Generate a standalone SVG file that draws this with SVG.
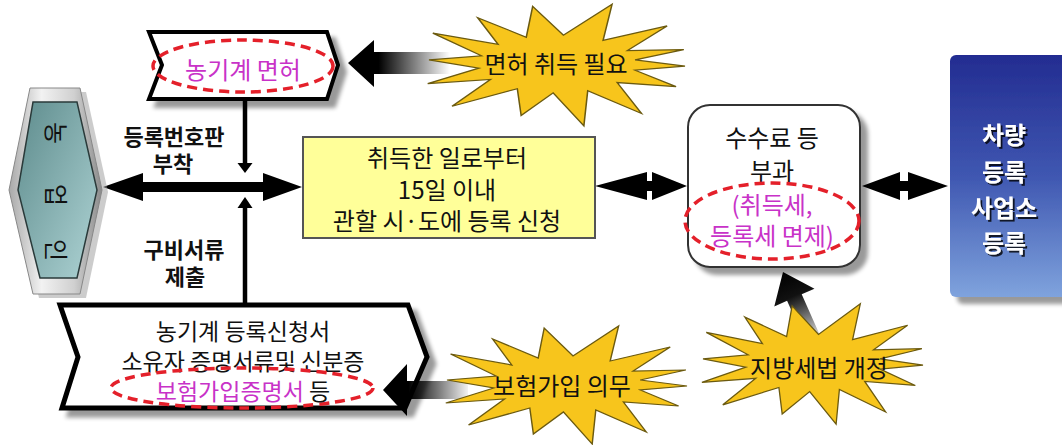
<svg xmlns="http://www.w3.org/2000/svg" width="1062" height="445" viewBox="0 0 1062 445">
<style>
text{font-family:"Noto Sans CJK KR","Noto Sans",sans-serif;font-size:24px;text-anchor:middle;fill:#111}
.b{font-weight:bold;font-size:22px}
.m{fill:#c832c8}
.w{fill:#fff;font-weight:bold}
.d{font-size:23px}
.red{fill:none;stroke:#e4202a;stroke-width:3.5;stroke-dasharray:10 6}
.star{fill:#f7c51c;stroke:#6b5a10;stroke-width:1.2;vector-effect:non-scaling-stroke}
.blk{fill:#000}
</style>
<defs>
<filter id="sh" x="-15%" y="-15%" width="140%" height="140%">
<feGaussianBlur in="SourceAlpha" stdDeviation="2"/>
<feOffset dx="7" dy="7"/>
<feComponentTransfer><feFuncA type="linear" slope="0.4"/></feComponentTransfer>
<feMerge><feMergeNode/><feMergeNode in="SourceGraphic"/></feMerge>
</filter>
<filter id="tsh" x="-10%" y="-10%" width="130%" height="130%">
<feOffset in="SourceAlpha" dx="1.5" dy="1.5"/>
<feComponentTransfer><feFuncA type="linear" slope="0.8"/></feComponentTransfer>
<feMerge><feMergeNode/><feMergeNode in="SourceGraphic"/></feMerge>
</filter>
<linearGradient id="blue" x1="0" y1="0" x2="0" y2="1">
<stop offset="0" stop-color="#232c91"/>
<stop offset="0.5" stop-color="#3f57b1"/>
<stop offset="1" stop-color="#7fa3dd"/>
</linearGradient>
<linearGradient id="silver" x1="0" y1="0" x2="1" y2="0">
<stop offset="0" stop-color="#a8a8a8"/>
<stop offset="0.35" stop-color="#f2f2f2"/>
<stop offset="0.7" stop-color="#d0d0d0"/>
<stop offset="1" stop-color="#8a8a8a"/>
</linearGradient>
<linearGradient id="teal" x1="0" y1="0" x2="1" y2="1">
<stop offset="0" stop-color="#5e8c8d"/>
<stop offset="1" stop-color="#aed3d4"/>
</linearGradient>
<linearGradient id="gL1" gradientUnits="userSpaceOnUse" x1="348" y1="0" x2="450" y2="0">
<stop offset="0" stop-color="#000"/>
<stop offset="0.3" stop-color="#000"/>
<stop offset="1" stop-color="#000" stop-opacity="0"/>
</linearGradient>
<linearGradient id="gL2" gradientUnits="userSpaceOnUse" x1="383" y1="0" x2="468" y2="0">
<stop offset="0" stop-color="#000"/>
<stop offset="0.3" stop-color="#000"/>
<stop offset="1" stop-color="#000" stop-opacity="0.05"/>
</linearGradient>
<linearGradient id="gU" gradientUnits="userSpaceOnUse" x1="0" y1="0" x2="0" y2="75">
<stop offset="0" stop-color="#000"/>
<stop offset="0.35" stop-color="#111"/>
<stop offset="1" stop-color="#000" stop-opacity="0.1"/>
</linearGradient>
<polygon id="starShape" points="100,2 61,6 93,22 47,18 66,48 24,26 21,60 -3,28 -28,50 -31,24 -82,41 -52,15 -101,19 -61,4 -100,-4 -59,-8 -97,-30 -46,-19 -62,-45 -24,-26 -19,-56 5,-28 43,-58 36,-23 86,-37 55,-13 99,-14 61,-4"/>
</defs>
<rect width="1062" height="445" fill="#fff"/>

<g id="connectors">
<line x1="245" y1="100" x2="245" y2="165" stroke="#000" stroke-width="4.5"/>
<polygon class="blk" points="237.5,163 252.5,163 245,173"/>
<line x1="245" y1="206" x2="245" y2="306" stroke="#000" stroke-width="4.5"/>
<polygon class="blk" points="237.5,208 252.5,208 245,197"/>
<polygon class="blk" points="103,187 143,173 143,182 263,182 263,173 302,187 263,201 263,192 143,192 143,201"/>
<polygon class="blk" points="595,186 647,172 647,181 652,181 652,172 687,186 652,200 652,191 647,191 647,200"/>
<polygon class="blk" points="862,186 900,172 900,181 908,181 908,172 948,186 908,200 908,191 900,191 900,200"/>
<polygon fill="url(#gL1)" points="348,63 374,40 374,52 450,52 450,74 374,74 374,87"/>
<polygon fill="url(#gU)" transform="translate(783,272) rotate(-24)" points="0,0 22,28 8,28 8,75 -8,75 -8,28 -22,28"/>
</g>

<g id="node-farmer">
<polygon points="36,92 86,92 108,192 86,298 39,298 15,192" fill="#9a9a9a" opacity="0.5"/>
<polygon points="30,88 80,88 102,190 80,294 33,294 9,190" fill="url(#silver)" stroke="#888" stroke-width="1"/>
<polygon points="33,102 77,102 97,190 77,278 40,278 18,190" fill="url(#teal)" stroke="#2a3a3a" stroke-width="1.5"/>
<text transform="translate(57,133) rotate(90)" dominant-baseline="central" font-size="21">농</text>
<text transform="translate(57,195) rotate(90)" dominant-baseline="central" font-size="21">업</text>
<text transform="translate(57,250) rotate(90)" dominant-baseline="central" font-size="21">인</text>
</g>

<g id="node-license">
<polygon points="149,32 327,32 338,65 327,99 149,99 162,65" fill="#fff" stroke="#000" stroke-width="4" filter="url(#sh)"/>
<ellipse class="red" cx="243" cy="66" rx="90" ry="26"/>
<text class="m" x="243" y="79">농기계 면허</text>
</g>

<g id="label-plate">
<text class="b" x="174" y="145">등록번호판</text>
<text class="b" x="173" y="172">부착</text>
</g>
<g id="label-docs">
<text class="b" x="184" y="258">구비서류</text>
<text class="b" x="185" y="285">제출</text>
</g>

<g id="node-apply">
<rect x="303" y="137" width="292" height="101" fill="#ffff99" stroke="#555" stroke-width="2"/>
<text x="447" y="167">취득한 일로부터</text>
<text x="447" y="199">15일 이내</text>
<text x="447" y="230">관할 시·도에 등록 신청</text>
</g>

<g id="node-fee">
<rect x="688" y="105" width="172" height="162" rx="22" fill="#fff" stroke="#333" stroke-width="2" filter="url(#sh)"/>
<text x="772" y="147">수수료 등</text>
<text x="772" y="180">부과</text>
<ellipse class="red" cx="772" cy="221" rx="87" ry="38"/>
<text class="m" x="772" y="214">(취득세,</text>
<text class="m" x="772" y="245">등록세 면제)</text>
</g>

<g id="node-office">
<rect x="950" y="55" width="125" height="242" rx="6" fill="url(#blue)" filter="url(#sh)"/>
<g filter="url(#tsh)">
<text class="w" x="1004" y="144">차량</text>
<text class="w" x="1004" y="181">등록</text>
<text class="w" x="1004" y="217">사업소</text>
<text class="w" x="1004" y="252">등록</text>
</g>
</g>

<g id="node-docs">
<polygon points="60,305 408,305 427,357 405,408 62,408 78,357" fill="#fff" stroke="#000" stroke-width="5" filter="url(#sh)"/>
<text class="d" x="243" y="340">농기계 등록신청서</text>
<text class="d" x="243" y="370">소유자 증명서류및 신분증</text>
<ellipse class="red" cx="242" cy="388" rx="131" ry="20"/>
<text class="d" x="243" y="400"><tspan class="m">보험가입증명서</tspan> 등</text>
<polygon fill="url(#gL2)" points="383,390 407,364 407,381 468,381 468,399 407,399 407,416"/>
</g>

<g id="burst-license">
<use href="#starShape" class="star" transform="translate(557,64) scale(1.28,1.03)"/>
<text x="556" y="73">면허 취득 필요</text>
</g>

<g id="burst-insurance">
<use href="#starShape" class="star" transform="translate(567,384) scale(1.2,1.0)"/>
<text x="562" y="395">보험가입 의무</text>
</g>

<g id="burst-tax">
<use href="#starShape" class="star" transform="translate(813,363) scale(1.1,1.02)"/>
<text x="819" y="377">지방세법 개정</text>
</g>
</svg>
